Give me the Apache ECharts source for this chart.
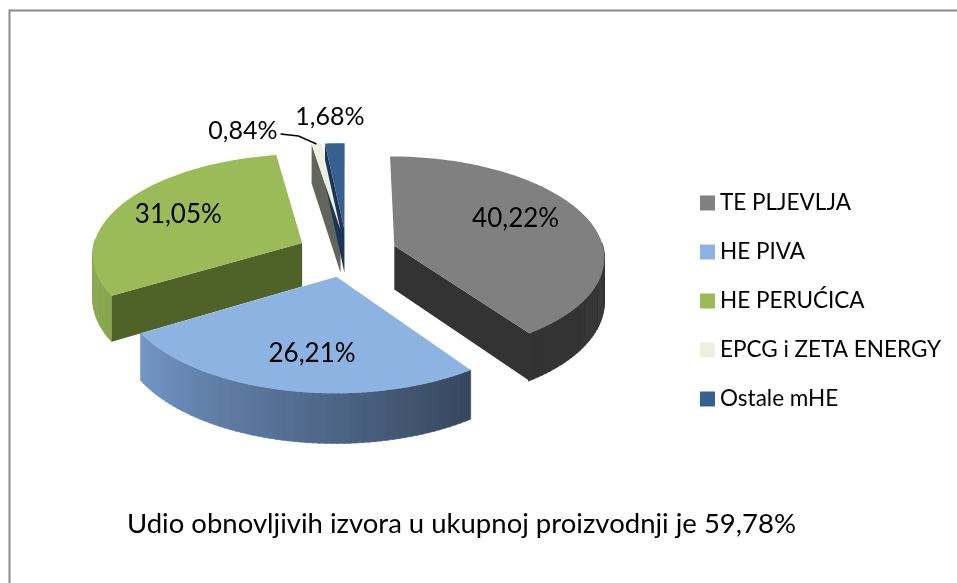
<!DOCTYPE html>
<html>
<head>
<meta charset="utf-8">
<script src="https://cdn.jsdelivr.net/npm/echarts@6/dist/echarts.min.js"></script>
<style>
html,body{margin:0;padding:0;background:#fff}
#chart{width:957px;height:583px}
</style>
</head>
<body>
<div id="chart"></div>
<script>
// data
var names = ['TE PLJEVLJA', 'HE PIVA', 'HE PERUĆICA', 'EPCG i ZETA ENERGY', 'Ostale mHE'];
var shares = [40.22, 26.21, 31.05, 0.84, 1.68];
var labels = ['40,22%', '26,21%', '31,05%', '0,84%', '1,68%'];
var footnote = 'Udio obnovljivih izvora u ukupnoj proizvodnji je 59,78%';

// styles
var topColors = ['#808080', '#8db3e2', '#9bbb59', '#ebf1de', '#376092'];
var cutColors = ['#333333', '#3a4a62', '#4f6228', '#62655b', '#1d3554'];
var wallColors = [['#3d3d3d', '#333333'], ['#37475e', '#7397c7'], ['#88a64f', '#93b257'], ['#62655b', '#62655b'], ['#1d3554', '#1d3554']];
var labelMode = ['inside', 'inside', 'inside', 'leader', 'outside'];
var labelRadius = [0.6, 0.7, 0.7, 1, 1.35];
var labelShift = [[5, -10], [10, 0], [3, 0], [0, 0], [-2, 0]];

// 3d pie geometry
var cx = 347, cy = 253, R = 210, tilt = 0.475, persp = 0.1, depth = 44, explode = 50;
var FONT = 'Lato, "Open Sans", sans-serif';

var total = 0, startAngles = [];
for (var i = 0; i < shares.length; i++) {
	startAngles.push(total);
	total += shares[i];
}
for (var i = 0; i < startAngles.length; i++) startAngles[i] = startAngles[i] / total * 360;

function proj(X, Z, down) {
	var s = 1 / (1 - persp * Z / R);
	return [cx + s * X, cy + s * (Z * tilt + (down ? depth : 0))];
}
function hex(c) {
	return [parseInt(c.substr(1, 2), 16), parseInt(c.substr(3, 2), 16), parseInt(c.substr(5, 2), 16)];
}
function mix(c0, c1, t) {
	var a = hex(c0), b = hex(c1);
	return 'rgb(' + Math.round(a[0] + (b[0] - a[0]) * t) + ',' + Math.round(a[1] + (b[1] - a[1]) * t) + ',' + Math.round(a[2] + (b[2] - a[2]) * t) + ')';
}

function renderItem(params, api) {
	var i = params.dataIndex;
	var a0 = startAngles[i];
	var a1 = a0 + api.value(1) / total * 360;
	var rad = Math.PI / 180;
	var m = (a0 + a1) / 2 * rad;
	var ox = explode * Math.sin(m), oz = -explode * Math.cos(m);
	function pt(a, r, down) {
		return proj(ox + r * Math.sin(a * rad), oz - r * Math.cos(a * rad), down);
	}
	var children = [];
	// outer wall, front part only
	var steps = Math.max(2, Math.ceil((a1 - a0) / 1.5));
	for (var k = 0; k < steps; k++) {
		var b0 = a0 + (a1 - a0) * k / steps, b1 = a0 + (a1 - a0) * (k + 1) / steps;
		var mid = (b0 + b1) / 2;
		if (mid > 88 && mid < 272) {
			var col = mix(wallColors[i][0], wallColors[i][1], (mid - a0) / (a1 - a0));
			children.push({
				type: 'polygon', z2: 1,
				shape: { points: [pt(b0, R), pt(b1 + 0.3, R), pt(b1 + 0.3, R, true), pt(b0, R, true)] },
				style: { fill: col, stroke: col, lineWidth: 0.6 }
			});
		}
	}
	// cut faces
	if (Math.cos((a0 - 90) * rad) < -0.01) {
		children.push({
			type: 'polygon', z2: 2,
			shape: { points: [pt(a0, 0), pt(a0, R), pt(a0, R, true), pt(a0, 0, true)] },
			style: { fill: cutColors[i] }
		});
	}
	if (Math.cos((a1 + 90) * rad) < -0.01) {
		children.push({
			type: 'polygon', z2: 2,
			shape: { points: [pt(a1, 0), pt(a1, R), pt(a1, R, true), pt(a1, 0, true)] },
			style: { fill: cutColors[i] }
		});
	}
	// top face
	var top = [pt(a0, 0)];
	var n = Math.max(2, Math.ceil(a1 - a0));
	for (var k = 0; k <= n; k++) top.push(pt(a0 + (a1 - a0) * k / n, R));
	children.push({
		type: 'polygon', z2: 10,
		shape: { points: top },
		style: { fill: topColors[i] }
	});
	// labels
	var mdeg = (a0 + a1) / 2;
	var txt = { fill: '#000', font: '25px ' + FONT, text: labels[i], verticalAlign: 'middle' };
	if (labelMode[i] == 'leader') {
		var e = pt(mdeg, R * labelRadius[i]);
		children.push({
			type: 'polyline', z2: 20,
			shape: { points: [e, [e[0] - 18, e[1] - 8], [e[0] - 36, e[1] - 10]] },
			style: { stroke: '#000', lineWidth: 1.5, fill: null }
		});
		txt.x = e[0] - 39; txt.y = e[1] - 13; txt.align = 'right';
	} else {
		var p = pt(mdeg, R * labelRadius[i]);
		txt.x = p[0] + labelShift[i][0]; txt.y = p[1] + labelShift[i][1]; txt.align = 'center';
		if (labelMode[i] == 'inside') txt.font = '26px ' + FONT;
	}
	children.push({ type: 'text', z2: 20, style: txt });
	return { type: 'group', children: children };
}

var myChart = echarts.init(document.getElementById('chart'));
var option = {
	backgroundColor: '#ffffff',
	animation: false,
	title: {
		text: footnote,
		left: 122,
		top: 504,
		textStyle: { fontFamily: FONT, fontSize: 27.5, fontWeight: 'normal', color: '#000', lineHeight: 30 }
	},
	legend: {
		orient: 'vertical',
		left: 695,
		top: 186,
		itemWidth: 15,
		itemHeight: 15,
		itemGap: 25,
		icon: 'rect',
		selectedMode: false,
		textStyle: { fontFamily: FONT, fontSize: 22.5, color: '#000', lineHeight: 24 },
		data: names
	},
	graphic: [{
		type: 'rect',
		shape: { x: 9.5, y: 10.5, width: 1200, height: 1200 },
		style: { fill: null, stroke: '#8a8a8a', lineWidth: 2 },
		silent: true
	}],
	series: [{
		// only used to feed the legend
		type: 'pie',
		center: [-200, -200],
		radius: 1,
		silent: true,
		label: { show: false },
		data: names.map(function (nm, i) {
			return { name: nm, value: shares[i], itemStyle: { color: topColors[i] } };
		})
	}, {
		type: 'custom',
		coordinateSystem: 'none',
		silent: true,
		renderItem: renderItem,
		data: shares.map(function (v, i) {
			return { name: names[i], value: [i, v] };
		})
	}]
};
myChart.setOption(option);
</script>
</body>
</html>
